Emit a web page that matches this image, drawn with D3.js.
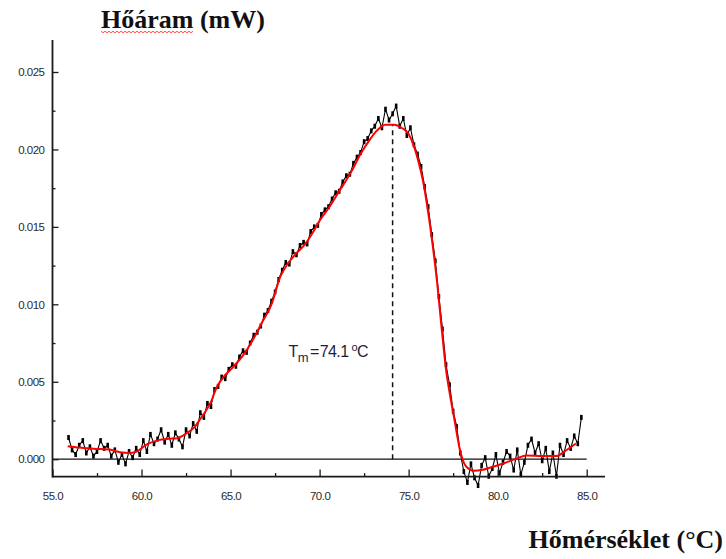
<!DOCTYPE html>
<html>
<head>
<meta charset="utf-8">
<script src="https://cdn.jsdelivr.net/npm/d3@7/dist/d3.min.js"></script>
<style>
  html, body { margin: 0; padding: 0; background: #fff; }
  svg { display: block; }
</style>
</head>
<body>
<svg id="chart" width="726" height="559"></svg>
<script>
// ---------- data ----------
const yTitle = "Hőáram (mW)";
const xTitle = "Hőmérséklet (°C)";
const xTickValues = [55, 60, 65, 70, 75, 80, 85];
const xMinorTicks = [57.5, 62.5, 67.5, 72.5, 77.5, 82.5];
const yTickValues = [0, 0.005, 0.010, 0.015, 0.020, 0.025];
const yMinorTicks = [0.0025, 0.0075, 0.0125, 0.0175, 0.0225];
const tmValue = 74.1;
const tmPeak = 0.0216;

// smoothed fit (red)
const fitT = [55.85, 56.5, 57.3, 58.2, 58.8, 59.3, 59.7, 60.3, 60.95, 61.5, 62.0, 62.5, 63.0, 63.3, 63.6, 63.9,
  64.2, 64.6, 65.1, 65.7, 66.2, 66.8, 67.3, 67.8, 68.2, 68.7, 69.2, 69.6, 70.0, 70.5, 71.1, 71.8, 72.3, 72.8,
  73.2, 73.7, 74.2, 74.6, 75.0, 75.3, 75.6, 75.8, 76.05, 76.33, 76.6, 76.85, 77.1, 77.3, 77.55, 77.88, 78.25,
  78.7, 79.1, 79.6, 80.3, 81.06, 81.6, 82.5, 83.3, 83.8, 84.4];
const fitY = [0.00084, 0.00075, 0.00068, 0.00062, 0.00045, 0.00040, 0.00048, 0.00095, 0.00123, 0.00132, 0.00136,
  0.00165, 0.0021, 0.0026, 0.0031, 0.0037, 0.0046, 0.0053, 0.0059, 0.0067, 0.0076, 0.0089, 0.0100, 0.0118,
  0.0126, 0.0133, 0.0139, 0.0146, 0.0154, 0.0162, 0.0173, 0.0186, 0.0197, 0.0206, 0.0212, 0.0216, 0.0216,
  0.0214, 0.0210, 0.0202, 0.0190, 0.0180, 0.0163, 0.0140, 0.0114, 0.0085, 0.0058, 0.0043, 0.0027, 0.0006,
  -0.0005, -0.00075, -0.0007, -0.00054, -0.00028, 0.00004, 0.00024, 0.0002, 0.0002, 0.00054, 0.00101];

// measured (noisy) data, black
const rawT = [55.9, 56.1, 56.3, 56.5, 56.7, 56.9, 57.1, 57.3, 57.5, 57.7, 57.9, 58.1, 58.3, 58.5, 58.7, 58.9,
  59.1, 59.3, 59.5, 59.7, 59.9, 60.1, 60.3, 60.5, 60.7, 60.9, 61.1, 61.3, 61.5, 61.7, 61.9, 62.1, 62.3, 62.5,
  62.7, 62.9, 63.1, 63.3, 63.5, 63.7, 63.9, 64.1, 64.3, 64.5, 64.7, 64.9, 65.1, 65.3, 65.5, 65.7, 65.9, 66.1,
  66.3, 66.5, 66.7, 66.9, 67.1, 67.3, 67.5, 67.7, 67.9, 68.1, 68.3, 68.5, 68.7, 68.9, 69.1, 69.3, 69.5, 69.7,
  69.9, 70.1, 70.3, 70.5, 70.7, 70.9, 71.1, 71.3, 71.5, 71.7, 71.9, 72.1, 72.3, 72.5, 72.7, 72.9, 73.1, 73.3,
  73.5, 73.7, 73.9, 74.1, 74.3, 74.5, 74.7, 74.9, 75.1, 75.3, 75.5, 75.7, 75.9, 76.1, 76.3, 76.5, 76.7, 76.9,
  77.1, 77.3, 77.5, 77.7, 77.9, 78.1, 78.3, 78.5, 78.7, 78.9, 79.1, 79.3, 79.5, 79.7, 79.9, 80.1, 80.3, 80.5,
  80.7, 80.9, 81.1, 81.3, 81.5, 81.7, 81.9, 82.1, 82.3, 82.5, 82.7, 82.9, 83.1, 83.3, 83.5, 83.7, 83.9, 84.1,
  84.3, 84.5, 84.7];
const rawY = [0.0014, 0.0006, 0.0003, 0.0009, 0.0012, 0.0004, 0.0008, 0.0002, 0.0005, 0.0012, 0.0007, 0.0009,
  0.0002, 0.0006, -0.0002, 0.0003, -0.0003, 0.0005, 0.0001, 0.0007, 0.0003, 0.0012, 0.0005, 0.0016, 0.0010,
  0.0013, 0.0019, 0.0011, 0.0016, 0.0009, 0.0017, 0.0013, 0.0008, 0.0019, 0.0015, 0.0023, 0.0018, 0.0030,
  0.0027, 0.0036, 0.0034, 0.0045, 0.0047, 0.0053, 0.0052, 0.0058, 0.0061, 0.0060, 0.0066, 0.0070, 0.0069,
  0.0075, 0.0080, 0.0082, 0.0086, 0.0093, 0.0096, 0.0102, 0.0108, 0.0116, 0.0122, 0.0127, 0.0126, 0.0134,
  0.0132, 0.0138, 0.0140, 0.0139, 0.0147, 0.0150, 0.0151, 0.0158, 0.0161, 0.0163, 0.0168, 0.0172, 0.0173,
  0.0179, 0.0183, 0.0184, 0.0191, 0.0195, 0.0198, 0.0205, 0.0207, 0.0212, 0.0215, 0.0220, 0.0214, 0.0226,
  0.0219, 0.0223, 0.0228, 0.0215, 0.0220, 0.0209, 0.0214, 0.0203, 0.0197, 0.0189, 0.0176, 0.0163, 0.0145,
  0.0128, 0.0105, 0.0084, 0.0061, 0.0048, 0.0031, 0.0021, 0.0004, -0.0008, -0.0015, -0.0003, -0.0012, -0.0017,
  -0.0004, 0.0001, -0.0011, -0.0006, 0.0003, -0.0009, -0.0002, 0.0005, 0.0002, -0.0007, 0.0006, -0.0010,
  -0.0002, 0.0009, 0.0013, 0.0004, 0.0010, -0.0001, 0.0007, -0.0008, 0.0004, -0.0011, 0.0009, 0.0003, 0.0012,
  0.0007, 0.0015, 0.0010, 0.0027];

// ---------- layout ----------
const svg = d3.select("#chart");
const x = d3.scaleLinear().domain([55, 85]).range([52.5, 586.7]);
const xAxisEnd = 86.03;
const y = d3.scaleLinear().domain([0, 0.025]).range([459.2, 72]);
const yTop = 0.02707, yBottom = -0.00112;
const axisColor = "#1a1a1a";
const labelFont = "'Liberation Sans', Arial, sans-serif";
const titleFont = "'Liberation Serif', 'Times New Roman', serif";

// zero line
svg.append("line")
  .attr("x1", x(55)).attr("x2", x(85))
  .attr("y1", y(0)).attr("y2", y(0))
  .attr("stroke", "#111").attr("stroke-width", 1.3);

// dashed Tm line
svg.append("line")
  .attr("x1", x(tmValue)).attr("x2", x(tmValue))
  .attr("y1", y(0)).attr("y2", y(tmPeak))
  .attr("stroke", "#111").attr("stroke-width", 1.5)
  .attr("stroke-dasharray", "5,4");

// raw data
const rawData = rawT.map((t, i) => [t, rawY[i]]);
svg.append("path")
  .datum(rawData)
  .attr("fill", "none")
  .attr("stroke", "#000")
  .attr("stroke-width", 1.1)
  .attr("d", d3.line().x(d => x(d[0])).y(d => y(d[1])));
svg.append("g").selectAll("rect")
  .data(rawData)
  .join("rect")
  .attr("x", d => x(d[0]) - 1.3)
  .attr("y", d => y(d[1]) - 2.5)
  .attr("width", 2.6).attr("height", 5)
  .attr("fill", "#000");

// fit curve
const fitData = fitT.map((t, i) => [t, fitY[i]]);
svg.append("path")
  .datum(fitData)
  .attr("fill", "none")
  .attr("stroke", "#ff0000")
  .attr("stroke-width", 2)
  .attr("d", d3.line().curve(d3.curveMonotoneX).x(d => x(d[0])).y(d => y(d[1])));

// ---------- axes ----------
const xAxisY = y(yBottom);
const yAxisX = x(55);

const gx = svg.append("g").attr("transform", `translate(0,${xAxisY})`)
  .call(d3.axisBottom(x).tickValues(xTickValues).tickFormat(d3.format(".1f"))
    .tickSizeInner(-7).tickSizeOuter(0).tickPadding(15));
gx.select(".domain").remove();
gx.selectAll("line").attr("stroke", axisColor).attr("stroke-width", 1.3);
gx.selectAll("text").attr("font-family", labelFont).attr("font-size", 11.5)
  .attr("letter-spacing", "-0.5").attr("fill", "#2a2a2a");

const gxm = svg.append("g").attr("transform", `translate(0,${xAxisY})`)
  .call(d3.axisBottom(x).tickValues(xMinorTicks).tickFormat("").tickSizeInner(-3.5).tickSizeOuter(0));
gxm.select(".domain").remove();
gxm.selectAll("line").attr("stroke", axisColor).attr("stroke-width", 1.3);

const gy = svg.append("g").attr("transform", `translate(${yAxisX},0)`)
  .call(d3.axisLeft(y).tickValues(yTickValues).tickFormat(d3.format(".3f"))
    .tickSizeInner(-6).tickSizeOuter(0).tickPadding(8));
gy.select(".domain").remove();
gy.selectAll("line").attr("stroke", axisColor).attr("stroke-width", 1.3);
gy.selectAll("text").attr("font-family", labelFont).attr("font-size", 11.5)
  .attr("letter-spacing", "-0.5").attr("fill", "#2a2a2a");

const gym = svg.append("g").attr("transform", `translate(${yAxisX},0)`)
  .call(d3.axisLeft(y).tickValues(yMinorTicks).tickFormat("").tickSizeInner(-3).tickSizeOuter(0));
gym.select(".domain").remove();
gym.selectAll("line").attr("stroke", axisColor).attr("stroke-width", 1.3);

// axis lines
svg.append("line")
  .attr("x1", yAxisX).attr("x2", x(xAxisEnd))
  .attr("y1", xAxisY).attr("y2", xAxisY)
  .attr("stroke", axisColor).attr("stroke-width", 1.8);
svg.append("line")
  .attr("x1", yAxisX).attr("x2", yAxisX)
  .attr("y1", y(yTop)).attr("y2", xAxisY + 0.9)
  .attr("stroke", axisColor).attr("stroke-width", 1.8);

// ---------- annotation ----------
const ann = svg.append("text")
  .attr("x", x(tmValue) - 104).attr("y", 357)
  .attr("font-family", labelFont).attr("font-size", 16)
  .attr("letter-spacing", "-0.6").attr("fill", "#1f1f3a");
ann.append("tspan").text("T");
ann.append("tspan").attr("font-size", 13).attr("dy", 4.5).text("m");
ann.append("tspan").attr("dy", -4.5).attr("dx", 2).text("=");
ann.append("tspan").attr("dx", 1).text("74.1");
ann.append("tspan").attr("font-size", 11).attr("dy", -6).attr("dx", 3).text("o");
ann.append("tspan").attr("dy", 6).text("C");

// ---------- titles ----------
svg.append("text")
  .attr("x", 101).attr("y", 28)
  .attr("font-family", titleFont).attr("font-weight", "bold")
  .attr("font-size", 26).attr("fill", "#111")
  .text(yTitle);

// spell-check style squiggle under first word
const firstWord = yTitle.split(" ")[0];
const tmp = svg.append("text").attr("font-family", titleFont).attr("font-weight", "bold")
  .attr("font-size", 26).text(firstWord);
const wLen = tmp.node().getComputedTextLength();
tmp.remove();
const sq = [];
for (let px = 0; px <= wLen; px += 2) sq.push([101 + px, 31.5 + (Math.round(px / 2) % 2 ? 1.2 : -0.2)]);
svg.append("path").attr("d", d3.line()(sq)).attr("fill", "none")
  .attr("stroke", "#ff3030").attr("stroke-width", 0.9);

svg.append("text")
  .attr("x", 723).attr("y", 547.5)
  .attr("text-anchor", "end")
  .attr("font-family", titleFont).attr("font-weight", "bold")
  .attr("font-size", 26).attr("fill", "#111")
  .text(xTitle);
</script>
</body>
</html>
